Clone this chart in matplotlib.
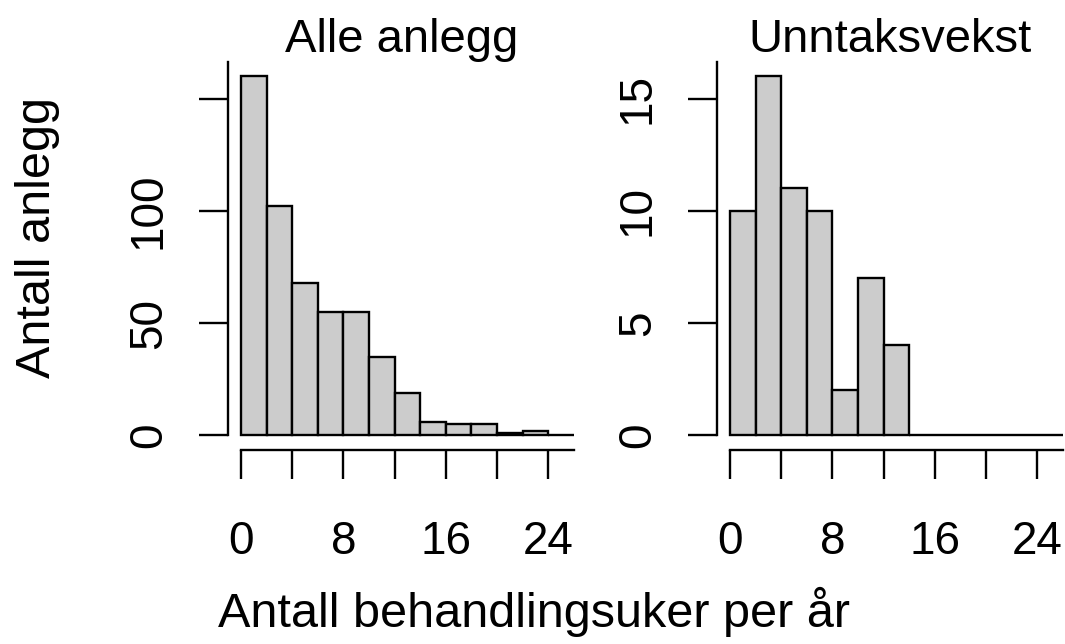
import matplotlib
matplotlib.use("Agg")
import matplotlib.pyplot as plt
import numpy as np

plt.rcParams['font.family'] = ['Liberation Sans', 'DejaVu Sans']

# histogram breaks (weeks per year) and counts per bin
breaks = np.arange(0, 28, 2)
alle_counts = [160, 102, 68, 55, 55, 35, 19, 6, 5, 5, 1, 2, 0]
unntak_counts = [10, 16, 11, 10, 2, 7, 4, 0, 0, 0, 0, 0, 0]

titles = ["Alle anlegg", "Unntaksvekst"]
x_ticks = [0, 4, 8, 12, 16, 20, 24]
x_ticklabels = ["0", "", "8", "", "16", "", "24"]
alle_yticks = [0, 50, 100, 150]
alle_yticklabels = ["0", "50", "100", ""]
unntak_yticks = [0, 5, 10, 15]
unntak_yticklabels = ["0", "5", "10", "15"]

W, H = 1065, 644
fs = 33
lw = 1.7

fig = plt.figure(figsize=(W / 100, H / 100), dpi=100)


def px(x, y):
    return x / W, 1 - y / H


panels = [
    (227.7, alle_counts, alle_yticks, alle_yticklabels, titles[0], 402),
    (716.7, unntak_counts, unntak_yticks, unntak_yticklabels, titles[1], 890),
]

for left, counts, yt, ytl, title, tx in panels:
    ax = fig.add_axes([left / W, (H - 449.5) / H, 359.5 / W, 387.5 / H])
    ax.bar(breaks[:-1], counts, width=2, align='edge', color='#cccccc',
           edgecolor='black', linewidth=lw, clip_on=False)
    top = max(counts)
    ax.set_xlim(-0.04 * 26, 26 * 1.04)
    ax.set_ylim(-0.04 * top, top * 1.04)
    for s in ['top', 'right']:
        ax.spines[s].set_visible(False)
    ax.spines['left'].set_bounds(0, top * 1.04)
    ax.spines['bottom'].set_bounds(0, 26)
    ax.spines['left'].set_linewidth(lw)
    ax.spines['bottom'].set_linewidth(lw)
    ax.set_xticks(x_ticks)
    ax.set_xticklabels(x_ticklabels)
    ax.set_yticks(yt)
    ax.set_yticklabels(ytl, rotation=90, va='center')
    ax.tick_params(axis='both', length=21, width=lw, labelsize=fs)
    ax.tick_params(axis='x', pad=30)
    ax.tick_params(axis='y', pad=20)
    fx, fy = px(tx, 52)
    fig.text(fx, fy, title, ha='center', va='baseline', fontsize=34)

fx, fy = px(534, 627)
fig.text(fx, fy, "Antall behandlingsuker per år", ha='center', va='baseline',
         fontsize=35)
fx, fy = px(38, 238)
fig.text(fx, fy, "Antall anlegg", ha='center', va='center', rotation=90,
         fontsize=35)

fig.savefig("out.png", dpi=100)
